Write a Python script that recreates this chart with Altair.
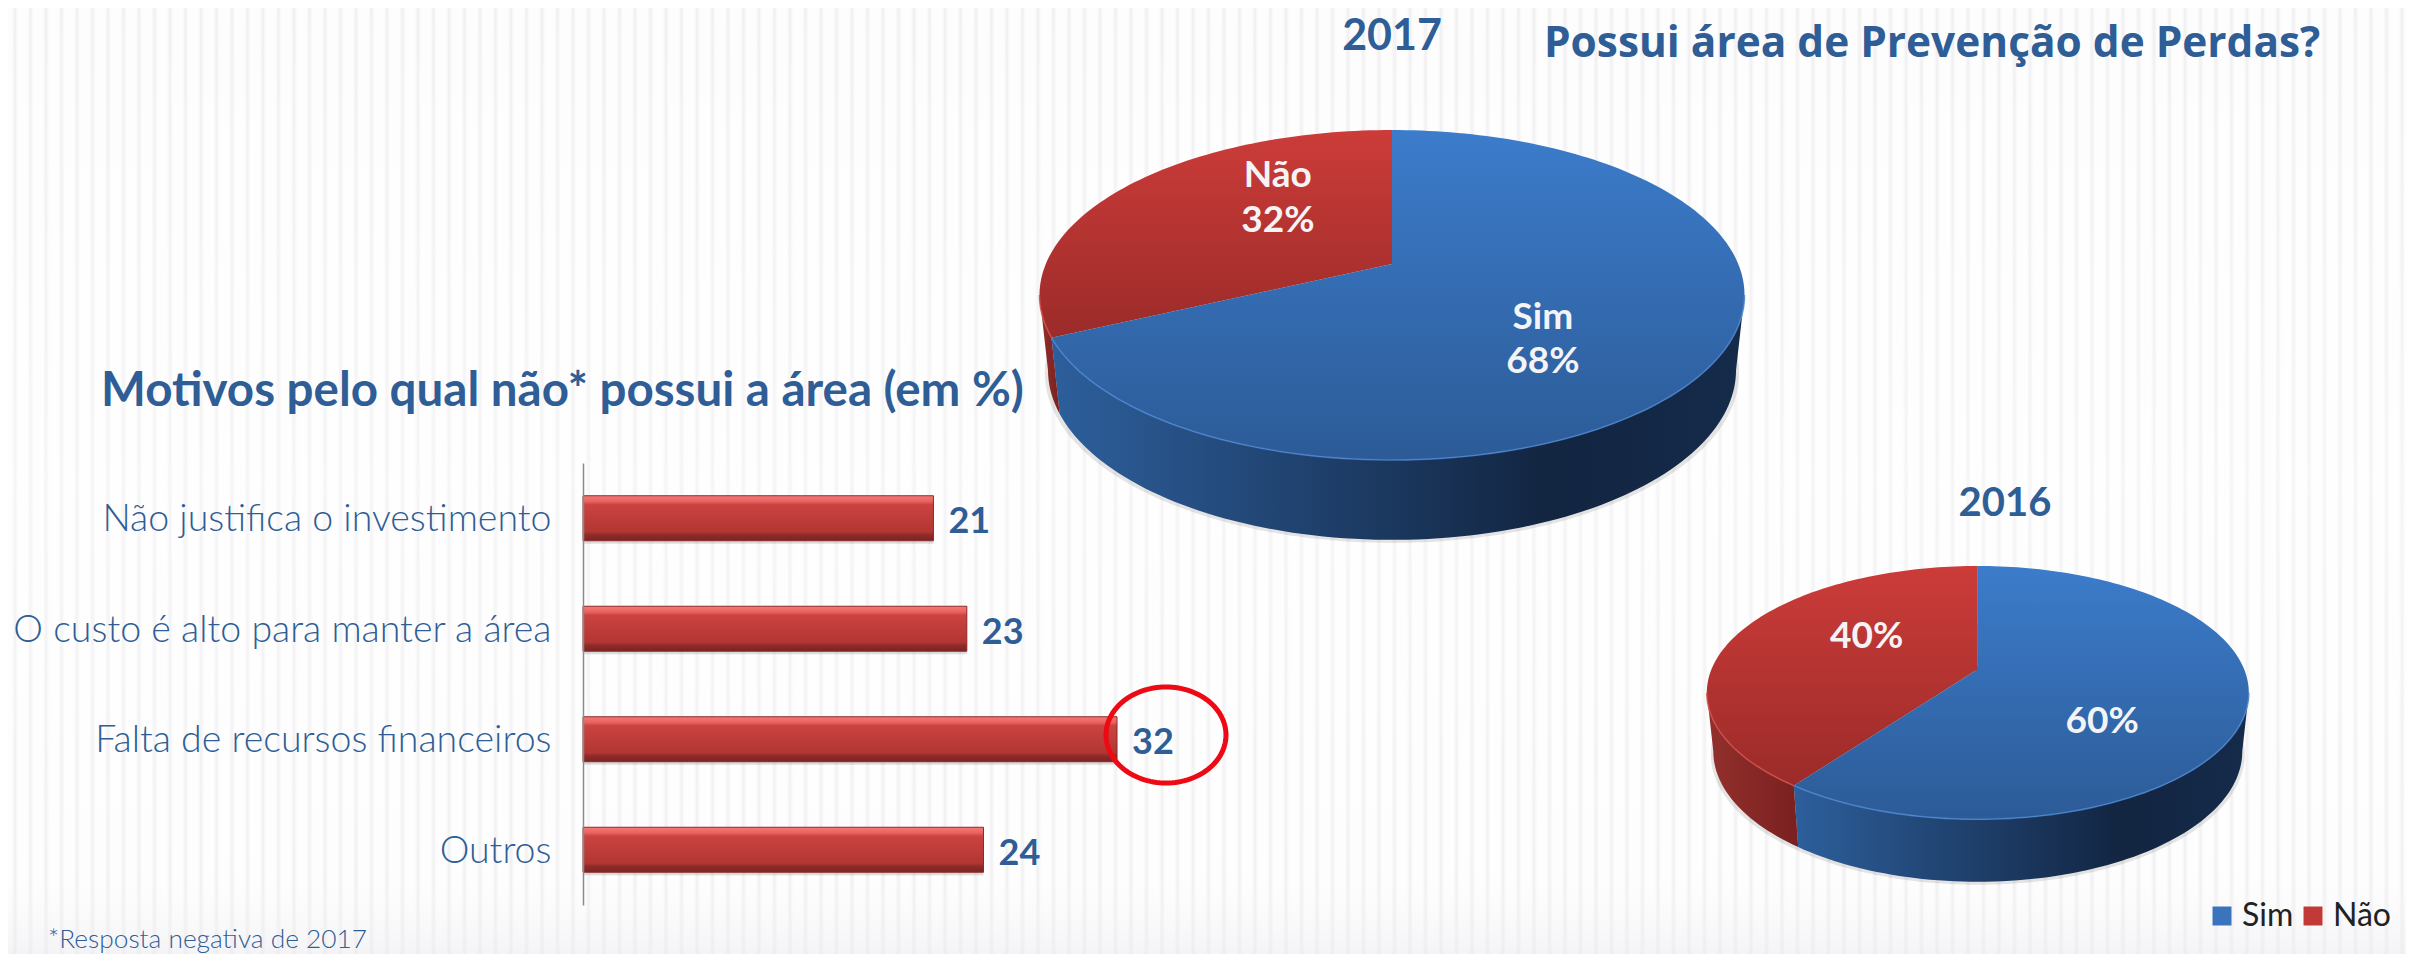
import math
import altair as alt
import pandas as pd

# ---------- values ----------
REASONS = ["Não justifica o investimento", "O custo é alto para manter a área",
           "Falta de recursos financeiros", "Outros"]
REASON_VALUES = [21, 23, 32, 24]
SHARE_2017 = {"Sim": 68, "Não": 32}
SHARE_2016 = {"Sim": 60, "Não": 40}
LEGEND_NAMES = ["Sim", "Não"]

W, H = 2398, 946
OX, OY = 8, 8
FONT = "Lato"
NAVY = "#2F5D95"


def grad(stops, x1=0, y1=0, x2=0, y2=1):
    return alt.LinearGradient(gradient="linear", x1=x1, y1=y1, x2=x2, y2=y2,
                              stops=[alt.GradientStop(offset=o, color=c) for o, c in stops])


# ---------- faint background stripes ----------
period = 15.5
stops = []
n = int(W / period) + 1
for i in range(n):
    a = (4 + i * period) / W
    b = (6.5 + i * period) / W
    c = (7.5 + i * period) / W
    d = (10 + i * period) / W
    if d >= 1:
        break
    stops += [(a, "#FDFDFE"), (b, "#EEEEF1"), (c, "#EEEEF1"), (d, "#FDFDFE")]
bg = alt.Chart(pd.DataFrame({"a": [0]})).mark_rect(fill=grad(stops, x2=1, y2=0)).encode(
    x=alt.value(0), x2=alt.value(W), y=alt.value(0), y2=alt.value(H))
bg_fade = alt.Chart(pd.DataFrame({"a": [0]})).mark_rect(
    fill=grad([(0, "rgba(255,255,255,0.2)"), (0.5, "rgba(255,255,255,0.45)"),
               (0.92, "rgba(255,255,255,0.25)"), (1, "rgba(238,238,241,0.6)")])).encode(
    x=alt.value(0), x2=alt.value(W), y=alt.value(0), y2=alt.value(H))


# ---------- tilted pies: wedges follow the shares, seen through a perspective ----------
def plane(t, k):
    u, v = math.sin(t), math.cos(t)
    return u / (1 + k * v), v / (1 + k * v)


def arc_points(f0, f1, k, step=0.004):
    count = max(2, int(abs(f1 - f0) / step) + 1)
    return [plane(2 * math.pi * (f0 + (f1 - f0) * j / (count - 1)), k) for j in range(count)]


def pie_layers(shares, cx, cy, a_up, a_down, half_w, depth):
    k = (a_down / a_up - 1) / (a_down / a_up + 1)
    A = a_up * (1 + k)
    B = half_w * math.sqrt(1 - k * k)
    xs = alt.Scale(domain=[-1, 1], range=[cx - B - OX, cx + B - OX], nice=False, zero=False)
    ys = alt.Scale(domain=[-1, 1], range=[cy + A - OY, cy - A - OY], nice=False, zero=False)
    f_sim = shares["Sim"] / 100
    # angular position of the widest points of the projected rim
    f_right = (math.pi - math.asin(math.sqrt(1 - k * k))) / (2 * math.pi)
    f_left = 1 - f_right

    def poly(points, fill, opacity=1):
        df = pd.DataFrame(points, columns=["x", "y"])
        df["i"] = range(len(df))
        mark = alt.Chart(df).mark_line(fill=fill, stroke="transparent", strokeWidth=0,
                                       opacity=opacity, interpolate="linear-closed")
        return mark.encode(x=alt.X("x:Q", scale=xs, axis=None),
                           y=alt.Y("y:Q", scale=ys, axis=None),
                           order=alt.Order("i:Q"))

    def rim(points, color, width):
        df = pd.DataFrame(points, columns=["x", "y"])
        df["i"] = range(len(df))
        return alt.Chart(df).mark_line(color=color, strokeWidth=width, opacity=0.8).encode(
            x=alt.X("x:Q", scale=xs, axis=None),
            y=alt.Y("y:Q", scale=ys, axis=None),
            order=alt.Order("i:Q"))

    drop = depth / A

    def wall(f0, f1, fill):
        front = arc_points(f0, f1, k)
        back = [(x * 0.976, y * 1.03 - drop) for x, y in reversed(front)]
        return poly(front + back, fill)

    wall_sim = grad([(0, "#2D5F9C"), (0.72, "#122541"), (1, "#152B4A")], x2=1, y2=0)
    wall_nao = grad([(0, "#93302C"), (1, "#7A2020")], x2=1, y2=0)
    top_sim = grad([(0, "#3C7CCB"), (1, "#2C5B97")])
    top_nao = grad([(0, "#CC3C39"), (1, "#9B2B29")])

    wedge_sim = [(0.0, 0.0)] + arc_points(0, f_sim, k)
    wedge_nao = [(0.0, 0.0)] + arc_points(f_sim, 1, k)
    shadow_ring = [(x * 0.985, y * 1.03 - drop - 3 / A) for x, y in arc_points(0, 1, k)]

    return {
        "shadow": [poly(shadow_ring, "#000000", 0.1)],
        "walls": [wall(f_right, f_sim, wall_sim), wall(f_sim, f_left, wall_nao)],
        "tops": [poly(wedge_nao, top_nao), poly(wedge_sim, top_sim),
                 rim(arc_points(f_right, f_sim, k), "#4C87D2", 1.6),
                 rim(arc_points(f_sim, f_left, k), "#D4504C", 1.6)],
        "xs": xs, "ys": ys, "k": k, "f_sim": f_sim,
    }


P17 = pie_layers(SHARE_2017, 1392, 264, 134, 196, 352.5, 74)
P16 = pie_layers(SHARE_2016, 1977.8, 669.3, 103.3, 150, 271, 58)


def pie_label(pie, frac_mid, text, dx, dy, size=37):
    # anchor half-way along the radius of the wedge
    u, v = math.sin(2 * math.pi * frac_mid) * 0.5, math.cos(2 * math.pi * frac_mid) * 0.5
    d = 1 + pie["k"] * v
    df = pd.DataFrame({"x": [u / d], "y": [v / d], "t": [text]})
    return alt.Chart(df).mark_text(color="#F4F4F6", fontWeight="bold", font=FONT, fontSize=size,
                                   dx=dx, dy=dy, align="center", baseline="middle").encode(
        x=alt.X("x:Q", scale=pie["xs"], axis=None),
        y=alt.Y("y:Q", scale=pie["ys"], axis=None),
        text="t:N")


f17 = P17["f_sim"]
f16 = P16["f_sim"]
labels = [
    pie_label(P17, f17 / 2, "Sim", -3, 9),
    pie_label(P17, f17 / 2, f"{SHARE_2017['Sim']}%", -3, 53),
    pie_label(P17, (1 + f17) / 2, "Não", 25, -47),
    pie_label(P17, (1 + f17) / 2, f"{SHARE_2017['Não']}%", 25, -2),
    pie_label(P16, f16 / 2, f"{SHARE_2016['Sim']}%", -6, 33),
    pie_label(P16, (1 + f16) / 2, f"{SHARE_2016['Não']}%", 12, -14),
]

# ---------- bars ----------
bar_df = pd.DataFrame({"reason": REASONS, "value": REASON_VALUES})
x_bar = alt.Scale(domain=[0, 32], range=[583 - OX, 1117 - OX], nice=False)
y_bar = alt.Scale(domain=REASONS, range=[463 - OY, 905 - OY], paddingInner=0.593, paddingOuter=0.2965)
bar_grad = grad([(0, "#F47A78"), (0.13, "#E9615E"), (0.2, "#CB4340"), (0.8, "#B23633"),
                 (0.87, "#8E2B29"), (1, "#7A2422")])

shadow = alt.Chart(bar_df).mark_bar(color="#000000", opacity=0.13, yOffset=3).encode(
    x=alt.X("value:Q", scale=x_bar, axis=None),
    y=alt.Y("reason:N", scale=y_bar, axis=None, sort=REASONS))
bars = alt.Chart(bar_df).mark_bar(fill=bar_grad, stroke="#8C2A28", strokeWidth=1).encode(
    x=alt.X("value:Q", scale=x_bar, axis=None),
    y=alt.Y("reason:N", scale=y_bar, sort=REASONS,
            axis=alt.Axis(title=None, offset=-(583 - OX), orient="left", ticks=False, zindex=1,
                          domainColor="#8A8A8A", domainWidth=1.5, labelColor=NAVY,
                          labelFont=FONT, labelFontSize=37.5, labelFontWeight=300, labelOffset=2,
                          labelPadding=32, labelLimit=700, grid=False)))
bar_text = alt.Chart(bar_df).mark_text(color=NAVY, fontWeight="bold", font=FONT, fontSize=36,
                                       align="left", baseline="middle", dx=15, dy=4).encode(
    x=alt.X("value:Q", scale=x_bar, axis=None),
    y=alt.Y("reason:N", scale=y_bar, axis=None, sort=REASONS),
    text="value:Q")

# ---------- ring around the highlighted value ----------
ring_pts = [(math.cos(2 * math.pi * j / 120), math.sin(2 * math.pi * j / 120)) for j in range(121)]
ring_df = pd.DataFrame(ring_pts, columns=["x", "y"])
ring_df["i"] = range(len(ring_df))
ring = alt.Chart(ring_df).mark_line(color="#EE0A14", strokeWidth=5).encode(
    x=alt.X("x:Q", scale=alt.Scale(domain=[-1, 1], range=[1106 - OX, 1226 - OX], nice=False), axis=None),
    y=alt.Y("y:Q", scale=alt.Scale(domain=[-1, 1], range=[783 - OY, 687 - OY], nice=False), axis=None),
    order=alt.Order("i:Q"))

# ---------- legend ----------
legend_df = pd.DataFrame({"name": LEGEND_NAMES, "x": [0, 0], "y": [0, 0]})
legend_seed = alt.Chart(legend_df).mark_square(size=20, opacity=1).encode(
    x=alt.X("x:Q", scale=P16["xs"], axis=None),
    y=alt.Y("y:Q", scale=P16["ys"], axis=None),
    color=alt.Color("name:N",
                    scale=alt.Scale(domain=LEGEND_NAMES, range=["#3A74BC", "#C13A38"]),
                    legend=alt.Legend(orient="none", legendX=2206 - OX, legendY=900 - OY,
                                      direction="horizontal", title=None, symbolType="square",
                                      symbolSize=360, symbolStrokeWidth=0, labelFontSize=32,
                                      labelFont=FONT, labelColor="#222222", columnPadding=3,
                                      labelOffset=4)))


# ---------- titles ----------
def free_text(txt, x, y, size, color=NAVY, weight="bold", align="center", font=FONT):
    return alt.Chart(pd.DataFrame({"t": [txt]})).mark_text(
        color=color, fontWeight=weight, fontSize=size, align=align, baseline="middle", font=font,
    ).encode(x=alt.value(x - OX), y=alt.value(y - OY), text="t:N")


titles = [
    free_text("2017", 1392, 37, 43),
    free_text("Possui área de Prevenção de Perdas?", 1544, 44, 42.4, align="left", font="Open Sans"),
    free_text("Motivos pelo qual não* possui a área (em %)", 101, 392, 47.5, align="left"),
    free_text("2016", 2005, 504, 40),
    free_text("*Resposta negativa de 2017", 48, 940, 26.3, weight=300, align="left"),
]

chart = alt.layer(
    bg, bg_fade,
    shadow, bars, bar_text,
    *P17["shadow"], *P17["walls"], *P17["tops"],
    *P16["shadow"], *P16["walls"], legend_seed, *P16["tops"],
    *labels, ring, *titles,
).resolve_scale(x="independent", y="independent").properties(
    width=W, height=H,
    autosize=alt.AutoSizeParams(type="none"),
    padding=0,
    background="white",
).configure_view(stroke=None)

chart.save("out.html", embed_options={"renderer": "svg", "actions": False})
